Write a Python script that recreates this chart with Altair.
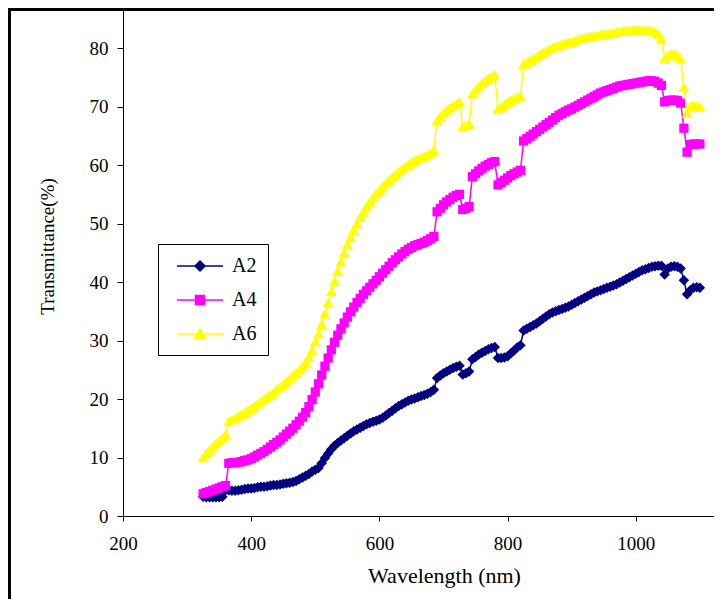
import altair as alt
import pandas as pd

# ---------------- data ----------------
series_names = ["A2", "A4", "A6"]
series_colors = ["#000080", "#FF00FF", "#FFFF00"]
series_shapes = ["diamond", "square", "triangle-up"]
series_sizes = [110, 85, 125]

wavelength = list(range(325, 1101, 5))

a6 = [
    10.0, 10.7, 11.3, 11.9, 12.4, 12.9, 13.4, 13.9, 16.2, 16.5,
    16.8, 17.1, 17.4, 17.7, 18.1, 18.4, 18.8, 19.2, 19.6, 20.0,
    20.4, 20.8, 21.2, 21.7, 22.1, 22.6, 23.0, 23.5, 24.0, 24.5,
    25.0, 25.6, 26.3, 27.2, 28.4, 29.8, 31.2, 32.8, 34.6, 36.5,
    38.4, 40.2, 41.9, 43.5, 45.0, 46.4, 47.7, 48.9, 50.0, 51.1,
    52.0, 52.9, 53.7, 54.4, 55.1, 55.7, 56.3, 56.9, 57.4, 57.9,
    58.4, 58.9, 59.3, 59.7, 60.1, 60.5, 60.8, 61.1, 61.3, 61.5,
    61.8, 62.1, 62.5, 67.6, 68.3, 68.9, 69.4, 69.8, 70.2, 70.5,
    70.8, 66.6, 66.8, 67.0, 72.2, 72.9, 73.5, 74.0, 74.4, 74.8,
    75.1, 75.4, 69.6, 70.0, 70.4, 70.8, 71.1, 71.4, 71.6, 71.8,
    77.3, 77.6, 77.9, 78.2, 78.5, 78.9, 79.2, 79.5, 79.8, 80.1,
    80.3, 80.5, 80.7, 80.9, 81.0, 81.1, 81.3, 81.5, 81.7, 81.8,
    81.9, 82.0, 82.1, 82.2, 82.3, 82.4, 82.5, 82.6, 82.7, 82.8,
    82.9, 83.0, 83.0, 83.1, 83.1, 83.1, 83.2, 83.2, 83.1, 83.1,
    83.0, 82.8, 82.4, 81.6, 78.3, 78.8, 79.0, 79.0, 78.7, 78.2,
    73.3, 68.9, 70.0, 70.3, 70.2, 70.0,
]

a4 = [
    3.8, 4.0, 4.2, 4.4, 4.6, 4.8, 5.0, 5.2, 9.0, 9.1,
    9.1, 9.2, 9.3, 9.5, 9.6, 9.8, 10.1, 10.4, 10.7, 11.0,
    11.4, 11.8, 12.2, 12.6, 13.0, 13.5, 14.0, 14.5, 15.0, 15.6,
    16.2, 16.9, 17.7, 18.7, 19.9, 21.2, 22.6, 24.1, 25.6, 27.0,
    28.4, 29.7, 30.9, 32.0, 33.0, 34.0, 34.9, 35.7, 36.5, 37.2,
    37.9, 38.5, 39.1, 39.7, 40.3, 40.9, 41.5, 42.1, 42.7, 43.3,
    43.8, 44.3, 44.8, 45.2, 45.6, 45.9, 46.2, 46.4, 46.6, 46.8,
    47.1, 47.4, 47.8, 52.0, 52.6, 53.2, 53.7, 54.1, 54.5, 54.8,
    55.0, 52.4, 52.6, 52.9, 58.0, 58.5, 59.0, 59.4, 59.8, 60.1,
    60.4, 60.6, 56.6, 57.0, 57.4, 57.8, 58.2, 58.5, 58.8, 59.1,
    64.1, 64.5, 64.9, 65.3, 65.7, 66.1, 66.5, 66.9, 67.3, 67.7,
    68.1, 68.5, 68.8, 69.1, 69.4, 69.6, 69.9, 70.2, 70.5, 70.8,
    71.1, 71.4, 71.7, 72.0, 72.3, 72.5, 72.7, 72.9, 73.1, 73.3,
    73.5, 73.6, 73.7, 73.8, 73.9, 74.0, 74.1, 74.2, 74.3, 74.4,
    74.4, 74.3, 74.0, 73.6, 70.8, 71.0, 71.1, 71.1, 71.0, 70.6,
    66.3, 62.2, 63.5, 63.6, 63.6, 63.6,
]

a2 = [
    3.3, 3.2, 3.2, 3.2, 3.2, 3.2, 3.3, 4.4, 4.4, 4.3,
    4.3, 4.4, 4.5, 4.6, 4.7, 4.7, 4.8, 4.9, 5.0, 5.0,
    5.1, 5.2, 5.3, 5.3, 5.4, 5.5, 5.6, 5.7, 5.8, 6.0,
    6.3, 6.6, 6.9, 7.2, 7.6, 7.9, 8.2, 9.0, 9.9, 10.7,
    11.4, 12.0, 12.5, 12.9, 13.3, 13.7, 14.1, 14.5, 14.8, 15.1,
    15.4, 15.7, 15.9, 16.1, 16.3, 16.5, 16.8, 17.2, 17.6, 18.0,
    18.4, 18.8, 19.1, 19.4, 19.7, 19.9, 20.1, 20.3, 20.5, 20.7,
    20.9, 21.2, 21.6, 23.6, 24.0, 24.4, 24.7, 25.0, 25.3, 25.5,
    25.7, 24.2, 24.4, 24.7, 26.8, 27.2, 27.6, 27.9, 28.2, 28.5,
    28.7, 28.9, 27.0, 27.0, 27.1, 27.3, 27.8, 28.3, 28.8, 29.2,
    31.7, 32.0, 32.3, 32.6, 32.9, 33.3, 33.7, 34.1, 34.5, 34.8,
    35.0, 35.2, 35.4, 35.6, 35.8, 36.1, 36.4, 36.7, 37.0, 37.3,
    37.6, 37.9, 38.2, 38.4, 38.6, 38.8, 39.0, 39.2, 39.4, 39.6,
    39.9, 40.2, 40.5, 40.8, 41.1, 41.4, 41.7, 42.0, 42.2, 42.4,
    42.6, 42.7, 42.8, 42.8, 41.3, 42.3, 42.6, 42.7, 42.6, 42.3,
    40.3, 37.9, 38.6, 39.0, 39.1, 39.0,
]

x_ticks = [200, 400, 600, 800, 1000]
y_ticks = [0, 10, 20, 30, 40, 50, 60, 70, 80]

# legend symbols: a short line with the marker in the middle
legend_paths = [
    "M-0.3,0H4.3M2,-0.5L2.5,0L2,0.5L1.5,0Z",
    "M-0.3,0H4.3M1.55,-0.45H2.45V0.45H1.55Z",
    "M-0.3,0H4.3M2,-0.55L2.55,0.45H1.45Z",
]

values_by_series = {"A2": a2, "A4": a4, "A6": a6}
rows = []
for name in series_names:
    for w, v in zip(wavelength, values_by_series[name]):
        rows.append({"series": name, "wavelength": w, "value": v})
df = pd.DataFrame(rows)

FONT = "Times New Roman, Liberation Serif, serif"

x_enc = alt.X(
    "wavelength:Q",
    scale=alt.Scale(domain=[200, 1122], nice=False, zero=False),
    axis=alt.Axis(
        values=x_ticks, format="d", title="Wavelength (nm)", grid=False,
        tickSize=5, labelPadding=13, labelFontSize=19, labelFont=FONT,
        titleFont=FONT, titleFontSize=22, titleFontWeight="normal",
        titleX=321, titleY=49, titleBaseline="top", titleAlign="center",
        domainColor="black", tickColor="black", labelColor="black", titleColor="black",
        labelFlush=False,
    ),
)
y_enc = alt.Y(
    "value:Q",
    scale=alt.Scale(domain=[0, 86.5], nice=False),
    axis=alt.Axis(
        values=y_ticks, format="d", title="Transmittance(%)", grid=False,
        tickSize=6, labelPadding=9, labelFontSize=19, labelFont=FONT,
        titleFont=FONT, titleFontSize=19, titleFontWeight="normal",
        titleX=-66, titleY=236, titleAngle=-90, titleBaseline="bottom", titleAlign="center",
        domainColor="black", tickColor="black", labelColor="black", titleColor="black",
        labelFlush=False,
    ),
)

base = alt.Chart(df)
layers = []
for name, col, shp, sz in zip(series_names, series_colors, series_shapes, series_sizes):
    sub = base.transform_filter(alt.datum.series == name)
    layers.append(sub.mark_line(color=col, strokeWidth=1.5).encode(x=x_enc, y=y_enc))
    layers.append(
        sub.mark_point(shape=shp, filled=True, color=col, size=sz, opacity=1).encode(x=x_enc, y=y_enc)
    )

leg = alt.Legend(
    orient="none", legendX=35, legendY=234, title=None,
    padding=11, strokeColor="black", fillColor="white",
    labelFont=FONT, labelFontSize=20, labelColor="black", labelOffset=41,
    symbolSize=400, symbolStrokeWidth=1.5, symbolOpacity=1, rowPadding=13,
)
legend_layer = base.transform_filter("datum.value < -1000").mark_point(
    filled=True, size=400, opacity=1
).encode(
    x=x_enc, y=y_enc,
    fill=alt.Fill("series:N", scale=alt.Scale(domain=series_names, range=series_colors), legend=leg),
    stroke=alt.Stroke("series:N", scale=alt.Scale(domain=series_names, range=series_colors), legend=leg),
    shape=alt.Shape("series:N", scale=alt.Scale(domain=series_names, range=legend_paths), legend=leg),
)

frame_src = alt.Chart(pd.DataFrame({"k": [0]}))
left_border = frame_src.mark_rule(color="black", strokeWidth=3).encode(
    x=alt.value(-113.5), y=alt.value(-2), y2=alt.value(589)
)
top_border = frame_src.mark_rule(color="black", strokeWidth=3).encode(
    x=alt.value(-115), x2=alt.value(600), y=alt.value(-0.5)
)

chart = alt.layer(*layers, legend_layer, left_border, top_border).properties(
    width=591, height=506,
    autosize=alt.AutoSizeParams(type="none"),
    padding={"left": 115, "top": 2, "right": 0, "bottom": 83},
    background="white",
).configure_view(stroke=None)

chart.save("out.html", embed_options={"renderer": "svg", "actions": False})
